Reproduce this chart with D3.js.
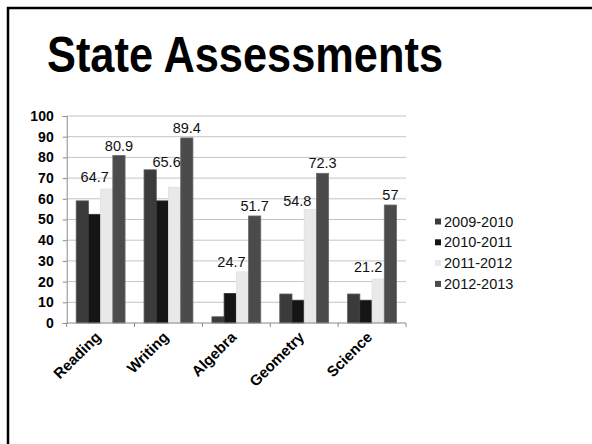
<!DOCTYPE html>
<html><head><meta charset="utf-8">
<script src="https://cdn.jsdelivr.net/npm/d3@7"></script>
<style>html,body{margin:0;padding:0;background:#fff;}svg{display:block;font-family:"Liberation Sans",Arial,sans-serif;}</style>
</head><body>
<svg id="c" width="592" height="444"></svg>
<script>
const title = "State Assessments";
const categories = ["Reading","Writing","Algebra","Geometry","Science"];
const seriesNames = ["2009-2010","2010-2011","2011-2012","2012-2013"];
const s2009 = [59, 74, 3, 14, 14];
const s2010 = [52.5, 59, 14.3, 11, 11];
const s2011 = [64.7, 65.6, 24.7, 54.8, 21.2];
const s2012 = [80.9, 89.4, 51.7, 72.3, 57];
const yTicks = [0,10,20,30,40,50,60,70,80,90,100];
const labelled = [false, false, true, true];

const series = [s2009, s2010, s2011, s2012];
const colors = ["#3b3b3b","#151515","#e9e9e9","#4b4b4b"];
const strokes = ["#5a5a5a","#333","#e0e0e0","#6a6a6a"];
// manual label nudges (style only), per series then per category: [dx, gap above bar]
const labelNudge = [null, null,
  [[-12,7],[-8,20],[-11,5],[-13,4],[-10,7]],
  [[0,5],[0,5],[0,5],[0,5],[0,5]]];

const svg = d3.select("#c");
svg.append("rect").attr("x",8).attr("y",8).attr("width",700).attr("height",600)
  .attr("fill","none").attr("stroke","#000").attr("stroke-width",2.5);

svg.append("text").attr("x",47).attr("y",72).attr("font-size",50).attr("font-weight","bold")
  .attr("textLength",396).attr("lengthAdjust","spacingAndGlyphs").text(title);

const x0 = d3.scaleBand().domain(categories).range([66.7,406]).paddingInner(0.28).paddingOuter(0.14);
const x1 = d3.scaleBand().domain(seriesNames).range([0, x0.bandwidth()]);
const y = d3.scaleLinear().domain([0,100]).range([323,116]);

// gridlines
svg.append("g").selectAll("line").data(yTicks.filter(d=>d>0)).join("line")
  .attr("x1",66.7).attr("x2",406).attr("y1",d=>y(d)).attr("y2",d=>y(d))
  .attr("stroke","#c4c4c4").attr("stroke-width",1);

// y axis
const yAxis = svg.append("g").attr("transform","translate(66.7,0)")
  .call(d3.axisLeft(y).tickValues(yTicks).tickSize(4).tickPadding(9));
yAxis.select(".domain").attr("stroke","#8a8a8a");
yAxis.selectAll(".tick line").attr("stroke","#8a8a8a");
yAxis.selectAll("text").attr("font-size",14).attr("font-weight","bold").attr("fill","#000")
  .attr("font-family","Liberation Sans, Arial, sans-serif");

// bars
categories.forEach((c,i)=>{
  series.forEach((s,j)=>{
    svg.append("rect").attr("x",x0(c)+x1(seriesNames[j])).attr("y",y(s[i]))
      .attr("width",x1.bandwidth()).attr("height",y(0)-y(s[i]))
      .attr("fill",colors[j]).attr("stroke",strokes[j]).attr("stroke-width",0.8);
  });
});
categories.forEach((c,i)=>{
  series.forEach((s,j)=>{
    if (labelled[j]) {
      const nd = labelNudge[j][i];
      svg.append("text").attr("x",x0(c)+x1(seriesNames[j])+x1.bandwidth()/2+nd[0])
        .attr("y",y(s[i])-nd[1]).attr("text-anchor","middle").attr("font-size",14.5).attr("fill","#111")
        .text(s[i]);
    }
  });
});

// x axis
const xAxisScale = d3.scalePoint().domain(d3.range(6)).range([66.7,406]);
svg.append("line").attr("x1",66.7).attr("x2",406).attr("y1",323).attr("y2",323).attr("stroke","#8a8a8a");
svg.append("g").selectAll("line").data(d3.range(6)).join("line")
  .attr("x1",d=>xAxisScale(d)).attr("x2",d=>xAxisScale(d)).attr("y1",323).attr("y2",327).attr("stroke","#8a8a8a");
svg.append("g").selectAll("text").data(categories).join("text")
  .attr("transform",d=>`translate(${x0(d)+x0.bandwidth()/2+1},338) rotate(-45)`)
  .attr("text-anchor","end").attr("font-size",15).attr("font-weight","bold").text(d=>d);

// legend
const lg = svg.append("g");
seriesNames.forEach((n,j)=>{
  const cy = 221.5 + j*20.8;
  lg.append("rect").attr("x",435).attr("y",cy-3).attr("width",6).attr("height",6).attr("fill",colors[j]);
  lg.append("text").attr("x",444).attr("y",cy+5).attr("font-size",14.5).attr("fill","#111").text(n);
});
</script>
</body></html>
